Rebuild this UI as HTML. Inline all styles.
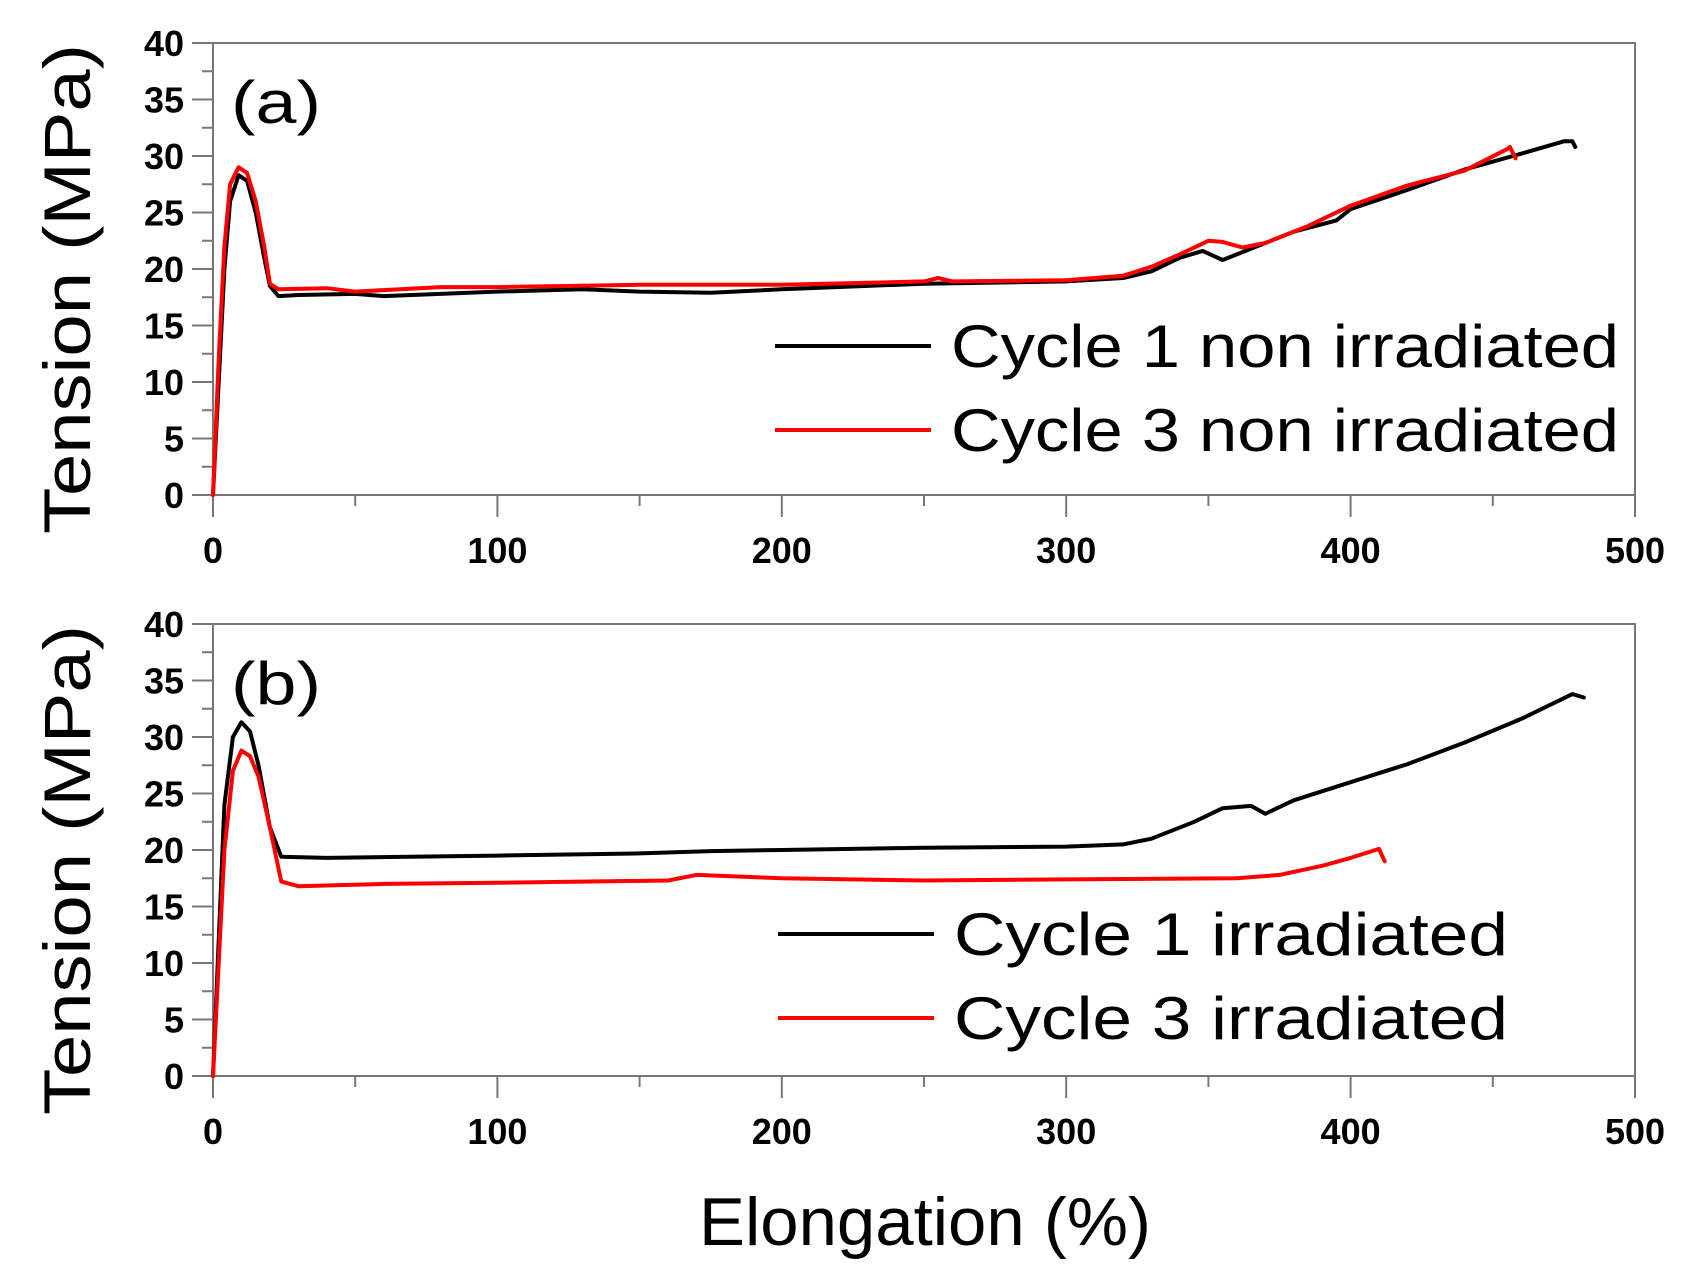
<!DOCTYPE html>
<html><head><meta charset="utf-8"><style>
body{margin:0;background:#fff}
svg{display:block;font-family:"Liberation Sans",sans-serif}
</style></head><body>
<svg id="chart" width="1687" height="1275" viewBox="0 0 1687 1275">
<rect width="1687" height="1275" fill="#fff"/>
<text x="925" y="1245" font-size="68" text-anchor="middle" textLength="452" lengthAdjust="spacingAndGlyphs">Elongation (%)</text>
</svg>
<script>
const xTicks=[0,100,200,300,400,500];
const yTicks=[0,5,10,15,20,25,30,35,40];
const a1X=[0,2,4,6,9,12,15,18,20,23,30,50,60,80,100,130,150,175,200,250,300,320,330,340,348,355,365,380,395,400,420,440,460,475,478,479];
const a1Y=[0,10,20,26,28.3,27.8,25,21,18.5,17.6,17.7,17.8,17.6,17.8,18.0,18.2,18.0,17.9,18.2,18.7,18.9,19.2,19.8,21,21.6,20.8,21.8,23.3,24.3,25.3,27.0,28.8,30.2,31.3,31.3,30.8];
const a3X=[0,2,4,6,9,12,15,18,20,23,40,50,80,100,150,200,250,255,260,300,320,330,340,350,355,362,370,385,400,420,440,455,456,458];
const a3Y=[0,12,22,27.5,29,28.5,26,22,18.7,18.2,18.3,18.0,18.4,18.4,18.6,18.6,18.9,19.2,18.9,19.0,19.4,20.2,21.3,22.5,22.4,21.9,22.3,23.8,25.6,27.4,28.7,30.6,30.8,29.8];
const b1X=[0,2,4,7,10,13,16,20,24,40,100,150,175,200,250,300,320,330,345,355,365,370,380,400,420,440,460,478,482];
const b1Y=[0,12,24,30,31.3,30.5,27.5,22,19.4,19.3,19.5,19.7,19.9,20.0,20.2,20.3,20.5,21,22.5,23.7,23.9,23.2,24.4,26.0,27.6,29.5,31.6,33.8,33.5];
const b3X=[0,2,4,7,10,13,16,20,24,30,60,100,160,170,200,250,300,360,375,390,400,410,412];
const b3Y=[0,10,20,27,28.8,28.3,26.5,22,17.2,16.8,17.0,17.1,17.3,17.8,17.5,17.3,17.4,17.5,17.8,18.6,19.3,20.1,19.0];
const panels=[
 {id:'a',label:'(a)',top:43,bottom:495,series:[[a1X,a1Y,'#000','cycle-1-non-irradiated','Cycle 1 non irradiated'],[a3X,a3Y,'#f00','cycle-3-non-irradiated','Cycle 3 non irradiated']],legY:[346,430],legX:775,legW:668},
 {id:'b',label:'(b)',top:624,bottom:1076,series:[[b1X,b1Y,'#000','cycle-1-irradiated','Cycle 1  irradiated'],[b3X,b3Y,'#f00','cycle-3-irradiated','Cycle 3  irradiated']],legY:[934,1018],legX:778,legW:554}
];
const svg=document.getElementById('chart');
const NS='http://www.w3.org/2000/svg';
function mk(t,at,p){const e=document.createElementNS(NS,t);for(const k in at)e.setAttribute(k,at[k]);(p||svg).appendChild(e);return e;}
const L=213,R=1635;
panels.forEach(P=>{
 const sx=v=>L+(R-L)*v/500, sy=v=>P.bottom-(P.bottom-P.top)*v/40;
 const g=mk('g',{});
 
 
 const box=mk('rect',{x:L,y:P.top,width:R-L,height:P.bottom-P.top,fill:'none',stroke:'#777','stroke-width':2},g);
 
 
 for(let v=0;v<=40;v+=2.5){const maj=v%5===0;const t=mk('line',{x1:L-(maj?21:11),x2:L,y1:sy(v),y2:sy(v),stroke:'#777','stroke-width':2},g);
  
  }
 yTicks.forEach(v=>{const t=mk('text',{x:184,y:sy(v)+13,'font-size':36,'font-weight':'bold','text-anchor':'end'},g);t.textContent=v;
  
  });
 for(let v=0;v<=500;v+=50){const maj=v%100===0;const t=mk('line',{x1:sx(v),x2:sx(v),y1:P.bottom,y2:P.bottom+(maj?22:11),stroke:'#777','stroke-width':2},g);
  
  }
 xTicks.forEach(v=>{const t=mk('text',{x:sx(v),y:P.bottom+68,'font-size':36,'font-weight':'bold','text-anchor':'middle'},g);t.textContent=v;
  
  });
 const cy=(P.top+P.bottom)/2+20;
 const yt=mk('text',{x:0,y:0,'font-size':66,'text-anchor':'middle',textLength:490,lengthAdjust:'spacingAndGlyphs',transform:`translate(90 ${cy}) rotate(-90)`},g);yt.textContent='Tension (MPa)';
 
 
 const pl=mk('text',{x:231,y:P.top+80,'font-size':60,textLength:90,lengthAdjust:'spacingAndGlyphs'},g);pl.textContent=P.label;
 
 
 P.series.forEach((s,i)=>{
  const pts=s[0].map((x,j)=>sx(x).toFixed(1)+','+sy(s[1][j]).toFixed(1)).join(' ');
  const l=mk('polyline',{points:pts,fill:'none',stroke:s[2],'stroke-width':4,'stroke-linejoin':'round','stroke-linecap':'round'},g);
  
  
  const ll=mk('line',{x1:P.legX,x2:P.legX+156,y1:P.legY[i],y2:P.legY[i],stroke:s[2],'stroke-width':4},g);
  
  
  const lt=mk('text',{x:P.legX+176,y:P.legY[i]+21,'font-size':60,textLength:P.legW,lengthAdjust:'spacingAndGlyphs'},g);lt.textContent=s[4];
  
  
 });
});
</script>
</body></html>
